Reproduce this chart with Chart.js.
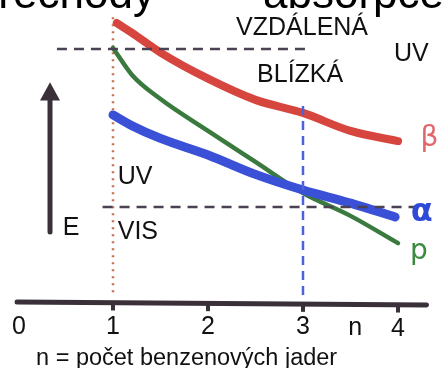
<!DOCTYPE html>
<html>
<head>
<meta charset="utf-8">
<script src="https://cdn.jsdelivr.net/npm/chart.js@4.4.1/dist/chart.umd.min.js"></script>
<style>
  html, body { margin: 0; padding: 0; background: #ffffff; }
  #wrap { position: relative; width: 442px; height: 368px; overflow: hidden; }
</style>
</head>
<body>
<div id="wrap"><canvas id="c" width="442" height="368"></canvas></div>
<script>
// n = number of benzene rings, E = transition energy (arbitrary units)
const nTicks = [0, 1, 2, 3, 4];

// β band
const betaN = [1.04, 1.2, 1.5, 2.0, 2.5, 3.0, 3.5, 4.0];
const betaE = [9.62, 9.28, 8.6, 7.7, 6.97, 6.52, 5.9, 5.55];

// p band
const pN = [1.0, 1.2, 1.5, 2.0, 2.5, 3.0, 3.5, 4.0];
const pE = [8.76, 7.83, 7.0, 5.9, 4.83, 3.76, 2.97, 2.03];

// α band
const alphaN = [1.0, 1.2, 1.5, 2.0, 2.5, 3.0, 3.5, 3.97];
const alphaE = [6.45, 6.08, 5.64, 5.07, 4.4, 3.86, 3.41, 2.93];

// region boundaries: far/near UV and UV/VIS
const farUvLevel = 8.72;
const farUvFrom = 0.41, farUvTo = 3.04;
const visLevel = 3.28;
const visFrom = 0.89, visTo = 4.18;

// vertical guides at n = 1 and n = 3
const guideOne = { n: 1, from: 0.34, to: 9.97 };
const guideThree = { n: 3, from: 0.24, to: 6.8 };

// text labels placed in data units
const regionLabels = [
  { text: 'VZDÁLENÁ', n: 2.99, e: 9.45, align: 'center' },
  { text: 'BLÍZKÁ', n: 2.97, e: 7.83, align: 'center' },
  { text: 'UV', n: 4.14, e: 8.55, align: 'center' },
  { text: 'UV', n: 1.05, e: 4.31, align: 'left' },
  { text: 'VIS', n: 1.05, e: 2.41, align: 'left' },
  { text: 'E', n: 0.47, e: 2.55, align: 'left' }
];
const bandLabels = [
  { text: 'β', n: 4.33, e: 5.62, color: '#e0666a' },
  { text: 'α', n: 4.25, e: 3.08, color: '#2f4ad6' },
  { text: 'p', n: 4.22, e: 1.75, color: '#3c8a40' }
];

const xy = (xs, ys) => xs.map((x, i) => ({ x: x, y: ys[i] }));

const INK = '#3a3039';

const drawing = {
  id: 'drawing',
  afterDatasetsDraw(chart) {
    const ctx = chart.ctx;
    const xs = chart.scales.x, ys = chart.scales.y;
    const X = v => xs.getPixelForValue(v);
    const Y = v => ys.getPixelForValue(v);
    ctx.save();

    // tick marks on the n axis
    ctx.strokeStyle = INK;
    ctx.lineWidth = 4;
    ctx.lineCap = 'butt';
    nTicks.slice(1).forEach(t => {
      const base = -0.1 * t / 4.3;
      ctx.beginPath();
      ctx.moveTo(X(t), Y(base));
      ctx.lineTo(X(t), Y(base - 0.27));
      ctx.stroke();
    });

    // energy arrow
    const ax = 0.337;
    ctx.lineWidth = 5;
    ctx.lineCap = 'round';
    ctx.beginPath();
    ctx.moveTo(X(ax), Y(2.41));
    ctx.lineTo(X(ax), Y(7.1));
    ctx.stroke();
    ctx.fillStyle = INK;
    ctx.beginPath();
    ctx.moveTo(X(ax), Y(7.58));
    ctx.lineTo(X(ax) - 10, Y(6.95));
    ctx.lineTo(X(ax) + 10, Y(6.95));
    ctx.closePath();
    ctx.fill();

    // tick labels
    ctx.fillStyle = '#111111';
    ctx.font = '25px "Liberation Sans", Arial, sans-serif';
    ctx.textAlign = 'center';
    ctx.textBaseline = 'middle';
    nTicks.forEach(t => {
      ctx.fillText(String(t), X(t === 0 ? 0.01 : t), Y(t === 4 ? -0.95 : -0.86));
    });
    ctx.fillText('n', X(3.55), Y(-0.9));

    // axis caption
    ctx.font = '23.5px "Liberation Sans", Arial, sans-serif';
    ctx.textAlign = 'left';
    ctx.textBaseline = 'alphabetic';
    ctx.fillText('n = počet benzenových jader', X(0.19), Y(-2.17));

    // region labels
    ctx.font = '25px "Liberation Sans", Arial, sans-serif';
    ctx.textBaseline = 'middle';
    regionLabels.forEach(l => {
      ctx.textAlign = l.align;
      ctx.fillText(l.text, X(l.n), Y(l.e));
    });

    // band labels
    ctx.textAlign = 'center';
    bandLabels.forEach(l => {
      ctx.fillStyle = l.color;
      ctx.font = (l.text === 'α' ? 'bold 32px' : '28px') + ' "DejaVu Sans", sans-serif';
      ctx.fillText(l.text, X(l.n), Y(l.e));
    });

    // heading running off the top edge
    ctx.fillStyle = '#000000';
    ctx.font = '44px "Liberation Sans", Arial, sans-serif';
    ctx.textAlign = 'left';
    ctx.textBaseline = 'alphabetic';
    const lead = ctx.measureText('př').width;
    ctx.fillText('přechody', 13 - lead, 7.5);
    const gap = ctx.measureText('– ').width;
    ctx.fillText('– absorpce', 263 - gap, 7.5);

    ctx.restore();
  }
};

const plain = { pointRadius: 0, fill: false, clip: false };

new Chart(document.getElementById('c'), {
  type: 'line',
  data: {
    datasets: [
      // dashed region boundaries (on top)
      Object.assign({ data: [{ x: farUvFrom, y: farUvLevel }, { x: farUvTo, y: farUvLevel }],
        borderColor: '#4a4252', borderWidth: 2.5, borderDash: [10, 7], order: 0 }, plain),
      Object.assign({ data: [{ x: visFrom, y: visLevel }, { x: visTo, y: visLevel }],
        borderColor: '#4a4252', borderWidth: 2.5, borderDash: [10, 7], order: 0 }, plain),
      Object.assign({ data: [{ x: guideThree.n, y: guideThree.from }, { x: guideThree.n, y: guideThree.to }],
        borderColor: '#4b63d8', borderWidth: 2.5, borderDash: [9, 6], order: 1 }, plain),
      // bands
      Object.assign({ data: xy(alphaN, alphaE), borderColor: '#3a50d6', borderWidth: 9,
        cubicInterpolationMode: 'monotone', borderCapStyle: 'round', order: 2 }, plain),
      Object.assign({ data: xy(pN, pE), borderColor: '#3a7a3f', borderWidth: 4.5,
        cubicInterpolationMode: 'monotone', borderCapStyle: 'round', order: 3 }, plain),
      Object.assign({ data: xy(betaN, betaE), borderColor: '#d6463f', borderWidth: 8,
        cubicInterpolationMode: 'monotone', borderCapStyle: 'round', order: 3 }, plain),
      // dotted guide at n = 1
      Object.assign({ data: [{ x: guideOne.n, y: guideOne.from }, { x: guideOne.n, y: guideOne.to }],
        borderColor: '#c4714e', borderWidth: 2.5, borderDash: [2, 5], order: 4 }, plain),
      // n axis
      Object.assign({ data: [{ x: -0.03, y: -0.2 }, { x: -0.01, y: 0.0 }, { x: 4.3, y: -0.1 }],
        borderColor: INK, borderWidth: 5, borderCapStyle: 'round', borderJoinStyle: 'round',
        tension: 0, order: 5 }, plain)
    ]
  },
  options: {
    responsive: false,
    animation: false,
    events: [],
    layout: { padding: { left: 18, right: 15.5, top: 12, bottom: 66 } },
    plugins: { legend: { display: false }, tooltip: { enabled: false } },
    scales: {
      x: { type: 'linear', min: 0, max: 4.3, display: false },
      y: { type: 'linear', min: 0, max: 10, display: false }
    }
  },
  plugins: [drawing]
});
</script>
</body>
</html>
